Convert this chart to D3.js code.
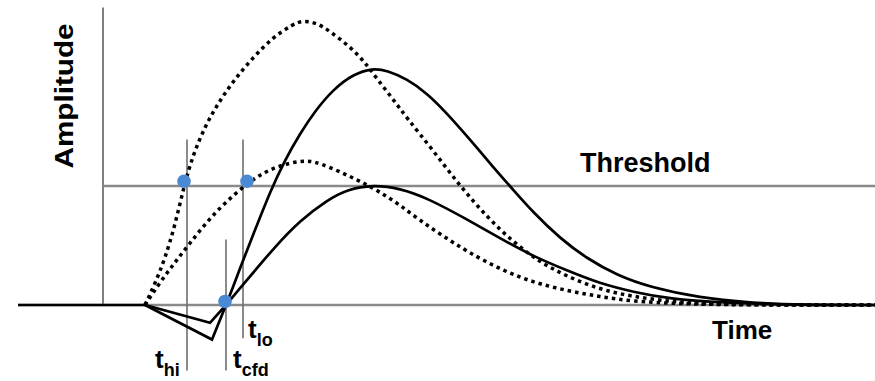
<!DOCTYPE html>
<html>
<head>
  <meta charset="utf-8">
  <title>Amplitude vs Time</title>
  <script src="https://d3js.org/d3.v7.min.js"></script>
  <style>
    body { margin: 0; background: #fff; }
    text { font-family: 'Liberation Sans', Arial, sans-serif; font-weight: bold; fill: #000; }
  </style>
</head>
<body>
  <div id="chart"></div>
  <script>
    // pulses as [time, amplitude], threshold amplitude = 1
    const bigDotted = [
      [0.42, 0], [0.52, 0.18], [0.62, 0.39], [0.72, 0.67], [0.81, 1.0], [0.90, 1.26],
      [1.02, 1.50], [1.14, 1.68], [1.30, 1.88], [1.50, 2.08], [1.70, 2.25], [1.90, 2.36],
      [2.00, 2.39], [2.14, 2.37], [2.27, 2.30], [2.47, 2.17], [2.62, 2.04], [2.74, 1.90],
      [2.90, 1.73], [3.04, 1.57], [3.30, 1.30], [3.57, 1.00], [3.84, 0.74], [4.10, 0.53],
      [4.37, 0.36], [4.64, 0.24], [4.97, 0.13], [5.30, 0.07], [5.67, 0.03], [5.97, 0.01],
      [6.57, 0], [7.72, 0]
    ];
    const smallDotted = [
      [0.42, 0], [0.57, 0.19], [0.72, 0.36], [0.87, 0.52], [1.04, 0.70], [1.22, 0.86],
      [1.44, 1.02], [1.62, 1.12], [1.80, 1.18], [1.97, 1.21], [2.07, 1.21], [2.17, 1.19],
      [2.37, 1.12], [2.57, 1.04], [2.77, 0.95], [2.97, 0.84], [3.17, 0.71], [3.40, 0.58],
      [3.64, 0.45], [3.97, 0.30], [4.30, 0.19], [4.64, 0.12], [4.97, 0.07], [5.30, 0.03],
      [5.77, 0.01], [6.37, 0], [7.72, 0]
    ];
    const bigSolidDip = [[0.42, 0], [1.09, -0.29], [1.23, 0]];
    const bigSolid = [
      [1.23, 0], [1.30, 0.15], [1.37, 0.31], [1.52, 0.63], [1.67, 0.95], [1.82, 1.22], [1.97, 1.44],
      [2.12, 1.63], [2.30, 1.81], [2.50, 1.94], [2.70, 1.99], [2.84, 1.97], [3.04, 1.90],
      [3.24, 1.78], [3.44, 1.61], [3.64, 1.42], [3.90, 1.16], [4.10, 0.97], [4.30, 0.78],
      [4.57, 0.56], [4.84, 0.39], [5.14, 0.25], [5.47, 0.15], [5.97, 0.06], [6.47, 0.02],
      [6.97, 0], [7.72, 0]
    ];
    const smallSolidDip = [[0.42, 0], [1.07, -0.15], [1.23, 0]];
    const smallSolid = [
      [1.23, 0], [1.35, 0.12], [1.47, 0.24], [1.72, 0.49], [1.97, 0.71], [2.24, 0.88], [2.44, 0.97],
      [2.70, 1.01], [2.97, 0.98], [3.24, 0.90], [3.64, 0.72], [3.97, 0.56], [4.30, 0.41],
      [4.64, 0.29], [4.97, 0.18], [5.30, 0.11], [5.67, 0.05], [6.17, 0.02], [6.97, 0],
      [7.72, 0]
    ];
    const leadIn = [[-0.85, 0], [0.42, 0]];

    // timing marks: name, time, top and bottom amplitude of the marker line
    const markNames = ["hi", "cfd", "lo"];
    const markTimes = [0.84, 1.23, 1.40];
    const markTops = [1.39, 0.55, 1.39];
    const markBottoms = [-0.55, -0.55, -0.28];

    const crossings = [[0.81, 1.04], [1.44, 1.04], [1.22, 0.03]];

    const W = 875, H = 381;
    const svg = d3.select("#chart").append("svg")
      .attr("width", W).attr("height", H);
    svg.append("rect").attr("width", W).attr("height", H).attr("fill", "#fff");

    const x = d3.scaleLinear().domain([-0.85, 7.72]).range([18, 875]);
    const y = d3.scaleLinear().domain([0, 1]).range([305, 186]);

    // axis + reference lines
    svg.append("line")
      .attr("x1", x(0)).attr("x2", x(0))
      .attr("y1", y(2.5)).attr("y2", y(0))
      .attr("stroke", "#555").attr("stroke-width", 1.5);
    svg.append("line")
      .attr("x1", x(-0.85)).attr("x2", x(7.72))
      .attr("y1", y(0)).attr("y2", y(0))
      .attr("stroke", "#8a8a8a").attr("stroke-width", 2.5);
    svg.append("line")
      .attr("x1", x(0)).attr("x2", x(7.72))
      .attr("y1", y(1)).attr("y2", y(1))
      .attr("stroke", "#8a8a8a").attr("stroke-width", 2.5);

    // marker lines
    svg.selectAll("line.mark")
      .data(markTimes)
      .enter().append("line")
      .attr("class", "mark")
      .attr("x1", d => x(d)).attr("x2", d => x(d))
      .attr("y1", (d, i) => y(markTops[i]))
      .attr("y2", (d, i) => y(markBottoms[i]))
      .attr("stroke", "#6e6e6e").attr("stroke-width", 1.6);

    const smooth = d3.line().x(d => x(d[0])).y(d => y(d[1])).curve(d3.curveBasis);
    const straight = d3.line().x(d => x(d[0])).y(d => y(d[1]));

    function draw(path, dashed) {
      svg.append("path")
        .attr("d", path)
        .attr("fill", "none")
        .attr("stroke", "#000")
        .attr("stroke-width", dashed ? 3.5 : 2.7)
        .attr("stroke-dasharray", dashed ? "3.5,4" : null)
        .attr("stroke-linejoin", "miter");
    }

    draw(straight(leadIn), false);
    draw(smooth(bigDotted), true);
    draw(smooth(smallDotted), true);
    draw(straight(bigSolidDip), false);
    draw(smooth(bigSolid), false);
    draw(straight(smallSolidDip), false);
    draw(smooth(smallSolid), false);

    svg.selectAll("circle.cross")
      .data(crossings)
      .enter().append("circle")
      .attr("class", "cross")
      .attr("cx", d => x(d[0])).attr("cy", d => y(d[1]))
      .attr("r", 6.8)
      .attr("fill", "#4a8ad4");

    // labels
    svg.append("text")
      .attr("transform", "translate(73,96) rotate(-90)")
      .attr("text-anchor", "middle")
      .attr("font-size", 25)
      .attr("textLength", 145)
      .attr("lengthAdjust", "spacingAndGlyphs")
      .text("Amplitude");

    svg.append("text")
      .attr("x", 580).attr("y", 172)
      .attr("font-size", 27)
      .text("Threshold");

    svg.append("text")
      .attr("x", 712).attr("y", 339)
      .attr("font-size", 26)
      .text("Time");

    const labelDx = [-32, 7, 5];
    const labelBase = [368, 368, 338];
    markNames.forEach((name, i) => {
      const t = svg.append("text")
        .attr("x", x(markTimes[i]) + labelDx[i])
        .attr("y", labelBase[i])
        .attr("font-size", 26);
      t.append("tspan").text("t");
      t.append("tspan").attr("font-size", 18).attr("dy", 8).text(name);
    });
  </script>
</body>
</html>
